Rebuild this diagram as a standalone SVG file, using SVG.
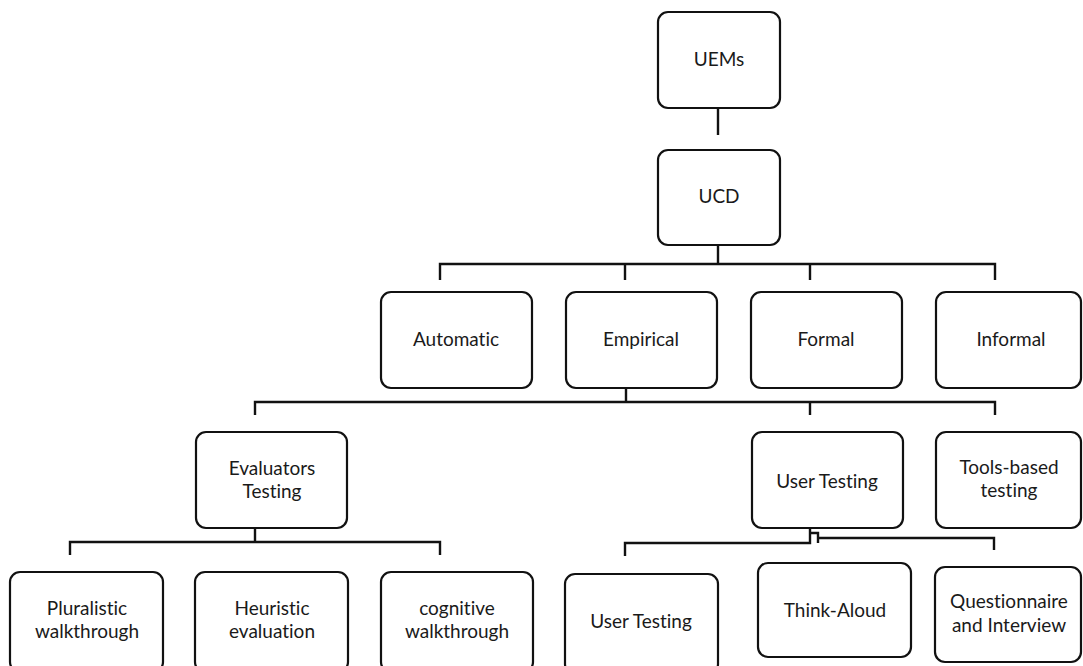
<svg xmlns="http://www.w3.org/2000/svg" width="1083" height="666" viewBox="0 0 1083 666">
<style>
.box{fill:#fff;stroke:#111;stroke-width:2.2}
.t{font-family:Lato,"Open Sans",sans-serif;font-size:19px;fill:#1a1a1a;text-anchor:middle;font-variant-ligatures:none;font-feature-settings:"liga" 0}
.c{fill:none;stroke:#111;stroke-width:2.4}
</style>
<rect width="1083" height="666" fill="#fff"/>
<g id="connectors">
<path class="c" d="M718 108V135"/>
<path class="c" d="M718 245V264M440 280V264H995V280M625 264V280M810 264V280"/>
<path class="c" d="M626 388V402M255 415V402H995V415M810 402V415"/>
<path class="c" d="M255 528V542M70 555V542H440V555"/>
<path class="c" d="M810 528V543H625V556M810 533H818V543M818 538H994V550"/>
</g>
<g id="uems"><rect class="box" x="658" y="12" width="122" height="96" rx="10"/><text class="t" x="719" y="66">UEMs</text></g>
<g id="ucd"><rect class="box" x="658" y="150" width="122" height="95" rx="10"/><text class="t" x="719" y="203">UCD</text></g>
<g id="automatic"><rect class="box" x="381" y="292" width="151" height="96" rx="10"/><text class="t" x="456" y="346">Automatic</text></g>
<g id="empirical"><rect class="box" x="566" y="292" width="151" height="96" rx="10"/><text class="t" x="641" y="346">Empirical</text></g>
<g id="formal"><rect class="box" x="751" y="292" width="151" height="96" rx="10"/><text class="t" x="826" y="346">Formal</text></g>
<g id="informal"><rect class="box" x="936" y="292" width="145" height="96" rx="10"/><text class="t" x="1011" y="346">Informal</text></g>
<g id="evaluators-testing"><rect class="box" x="196" y="432" width="151" height="96" rx="10"/><text class="t" x="272" y="475">Evaluators</text><text class="t" x="272" y="498">Testing</text></g>
<g id="user-testing-mid"><rect class="box" x="752" y="432" width="151" height="96" rx="10"/><text class="t" x="827" y="488">User Testing</text></g>
<g id="tools-based"><rect class="box" x="936" y="432" width="145" height="96" rx="10"/><text class="t" x="1009" y="474">Tools-based</text><text class="t" x="1009" y="497">testing</text></g>
<g id="pluralistic"><rect class="box" x="10" y="572" width="153" height="100" rx="10"/><text class="t" x="87" y="615">Pluralistic</text><text class="t" x="87" y="638">walkthrough</text></g>
<g id="heuristic"><rect class="box" x="195" y="572" width="153" height="100" rx="10"/><text class="t" x="272" y="615">Heuristic</text><text class="t" x="272" y="638">evaluation</text></g>
<g id="cognitive"><rect class="box" x="381" y="572" width="152" height="100" rx="10"/><text class="t" x="457" y="615">cognitive</text><text class="t" x="457" y="638">walkthrough</text></g>
<g id="user-testing-bottom"><rect class="box" x="565" y="574" width="153" height="100" rx="10"/><text class="t" x="641" y="628">User Testing</text></g>
<g id="think-aloud"><rect class="box" x="758" y="563" width="153" height="94" rx="10"/><text class="t" x="835" y="617">Think-Aloud</text></g>
<g id="questionnaire"><rect class="box" x="935" y="567" width="146" height="95" rx="10"/><text class="t" x="1009" y="608">Questionnaire</text><text class="t" x="1009" y="632">and Interview</text></g>
</svg>
